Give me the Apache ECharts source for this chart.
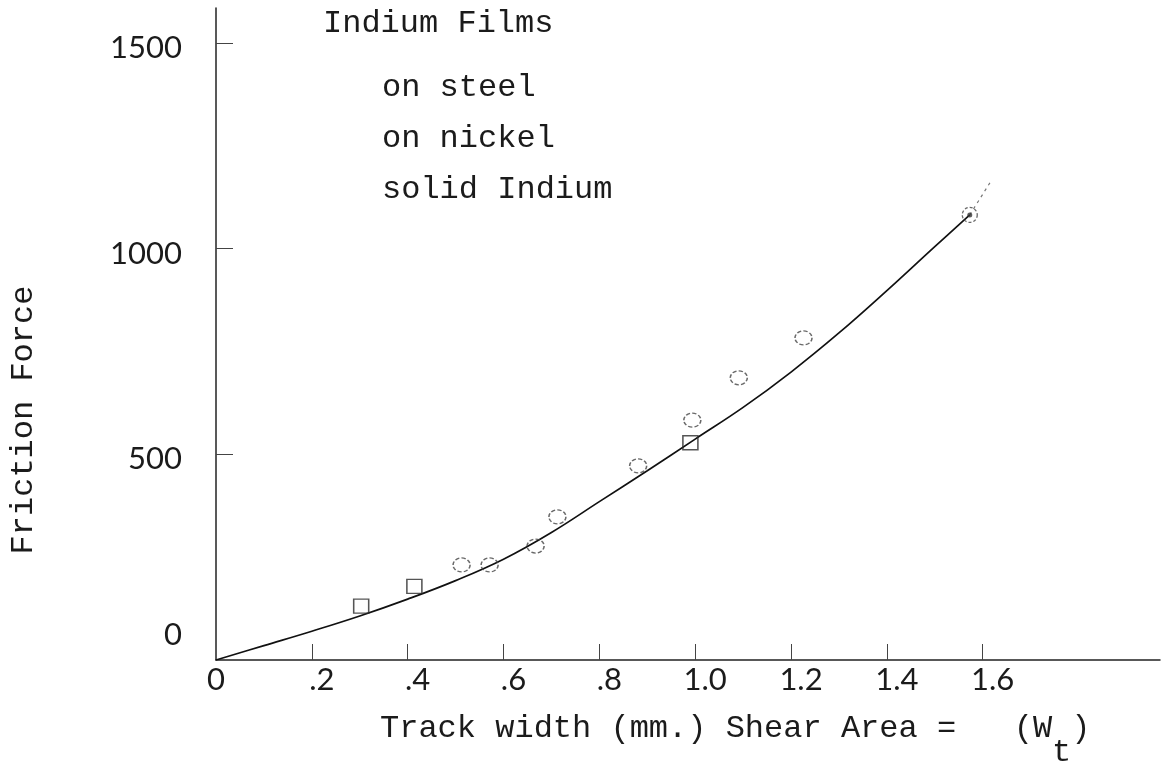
<!DOCTYPE html>
<html>
<head>
<meta charset="utf-8">
<script src="https://cdn.jsdelivr.net/npm/echarts@6/dist/echarts.min.js"></script>
<style>
  html, body { margin: 0; padding: 0; background: #fff; }
  #chart { width: 1169px; height: 762px; }
</style>
</head>
<body>
<div id="chart"></div>
<script>
// Friction force against track width for indium films
const onSteel = [[0.303, 131], [0.414, 179], [0.990, 528]];
const onNickel = [[0.5125, 231], [0.571, 231], [0.667, 277], [0.7125, 348],
                  [0.881, 472], [0.994, 583], [1.091, 686], [1.226, 783]];
const solidIndium = [[1.573, 1082]];

// Drawn fit curve through the points, and its faint continuation
const fitCurve = [[0, 0], [0.1, 35], [0.2, 70], [0.3, 107], [0.4, 148], [0.5, 193],
                  [0.6, 245], [0.7, 310], [0.8, 385], [0.9, 460], [1.0, 537],
                  [1.1, 614], [1.2, 700], [1.3, 795], [1.4, 898], [1.5, 1005],
                  [1.573, 1082]];
const fitExtension = [[1.573, 1082], [1.615, 1160]];

// Axis ticks and labels
const xTickValues = [0.2, 0.4, 0.6, 0.8, 1.0, 1.2, 1.4, 1.6];
const xLabelValues = [0, 0.2, 0.4, 0.6, 0.8, 1.0, 1.2, 1.4, 1.6];
const xLabelTexts = ['0', '.2', '.4', '.6', '.8', '1.0', '1.2', '1.4', '1.6'];
const yTickValues = [500, 1000, 1500];
const yLabelValues = [0, 500, 1000, 1500];

const seriesNames = ['on steel', 'on nickel', 'solid Indium'];

const mono = '"Liberation Mono", "DejaVu Sans Mono", monospace';
const numFont = 'Lato, "Noto Sans", sans-serif';
const ink = '#1b1b1b';

const chart = echarts.init(document.getElementById('chart'), null, { renderer: 'canvas' });

chart.setOption({
  animation: false,
  backgroundColor: '#ffffff',
  title: [
    {
      text: 'Indium Films',
      left: 323, top: 8, padding: 0,
      textStyle: { fontFamily: mono, fontSize: 32, fontWeight: 'normal', color: ink, lineHeight: 32 }
    },
    {
      text: '{a|Track width (mm.) Shear Area =   (W}{s|t}{a|)}',
      left: 380, top: 713, padding: 0,
      textStyle: {
        fontFamily: mono, fontSize: 32, fontWeight: 'normal', color: ink,
        rich: {
          a: { fontFamily: mono, fontSize: 32, color: ink, lineHeight: 56, verticalAlign: 'top' },
          s: { fontFamily: mono, fontSize: 32, color: ink, lineHeight: 56, verticalAlign: 'bottom' }
        }
      }
    }
  ],
  legend: {
    data: seriesNames,
    orient: 'vertical',
    left: 377, top: 68, padding: 0,
    itemWidth: 0, itemHeight: 0, itemGap: 11,
    selectedMode: false,
    itemStyle: { color: 'rgba(0,0,0,0)', borderWidth: 0 },
    textStyle: { fontFamily: mono, fontSize: 32, color: ink, lineHeight: 40 }
  },
  grid: { left: 214, right: 9, top: 8, bottom: 102, containLabel: false },
  xAxis: {
    type: 'value',
    min: 0, max: 1.97,
    splitLine: { show: false },
    axisLine: { show: true, onZero: false, lineStyle: { color: '#222', width: 1.5 } },
    axisTick: { show: true, inside: true, length: 16, customValues: xTickValues,
                lineStyle: { color: '#444', width: 1 } },
    axisLabel: {
      customValues: xLabelValues,
      margin: 4,
      formatter: function (v) {
        const i = xLabelValues.findIndex(function (t) { return Math.abs(t - v) < 1e-6; });
        const txt = i >= 0 ? xLabelTexts[i] : '';
        return v === 0 ? '{z|' + txt + '}' : '{n|' + txt + '}';
      },
      rich: {
        z: { fontFamily: numFont, fontSize: 31, color: ink },
        n: { fontFamily: numFont, fontSize: 31, color: ink, padding: [0, 0, 0, 20] }
      }
    }
  },
  yAxis: {
    type: 'value',
    min: 0, max: 1585,
    name: 'Friction Force',
    nameLocation: 'middle',
    nameRotate: 90,
    nameGap: 176,
    nameTextStyle: { fontFamily: mono, fontSize: 32, color: ink, padding: [0, 172, 0, 0] },
    splitLine: { show: false },
    axisLine: { show: true, onZero: false, lineStyle: { color: '#222', width: 1.5 } },
    axisTick: { show: true, inside: true, length: 17, customValues: yTickValues,
                lineStyle: { color: '#444', width: 1 } },
    axisLabel: {
      customValues: yLabelValues,
      margin: 34,
      formatter: function (v) {
        return v === 0 ? '{z|0}' : '{n|' + v + '}';
      },
      rich: {
        z: { fontFamily: numFont, fontSize: 31, color: ink, padding: [0, 0, 50, 0] },
        n: { fontFamily: numFont, fontSize: 31, color: ink, padding: [10, 0, 0, 0] }
      }
    }
  },
  series: [
    {
      name: 'fit',
      type: 'line',
      data: fitCurve,
      smooth: 0.4,
      showSymbol: false,
      silent: true,
      lineStyle: { color: '#111', width: 1.7 },
      z: 2
    },
    {
      name: 'fit extension',
      type: 'line',
      data: fitExtension,
      showSymbol: false,
      silent: true,
      lineStyle: { color: '#777', width: 1.2, type: [3, 4] },
      z: 2
    },
    {
      name: 'on steel',
      type: 'scatter',
      data: onSteel,
      symbol: 'rect',
      symbolSize: [15, 14],
      itemStyle: { color: 'rgba(255,255,255,0)', borderColor: '#2a2a2a', borderWidth: 1.5 },
      z: 3
    },
    {
      name: 'on nickel',
      type: 'scatter',
      data: onNickel,
      symbol: 'circle',
      symbolSize: [17, 14],
      itemStyle: { color: 'rgba(255,255,255,0)', borderColor: '#444', borderWidth: 1.4, borderType: [4, 2] },
      z: 3
    },
    {
      name: 'solid Indium',
      type: 'scatter',
      data: solidIndium,
      symbol: 'circle',
      symbolSize: 15,
      itemStyle: { color: 'rgba(255,255,255,0)', borderColor: '#444', borderWidth: 1.3, borderType: [3, 2] },
      z: 3
    },
    {
      name: 'solid Indium centre',
      type: 'scatter',
      data: solidIndium,
      symbol: 'circle',
      symbolSize: 5,
      silent: true,
      itemStyle: { color: '#333' },
      z: 4
    }
  ]
});
</script>
</body>
</html>
